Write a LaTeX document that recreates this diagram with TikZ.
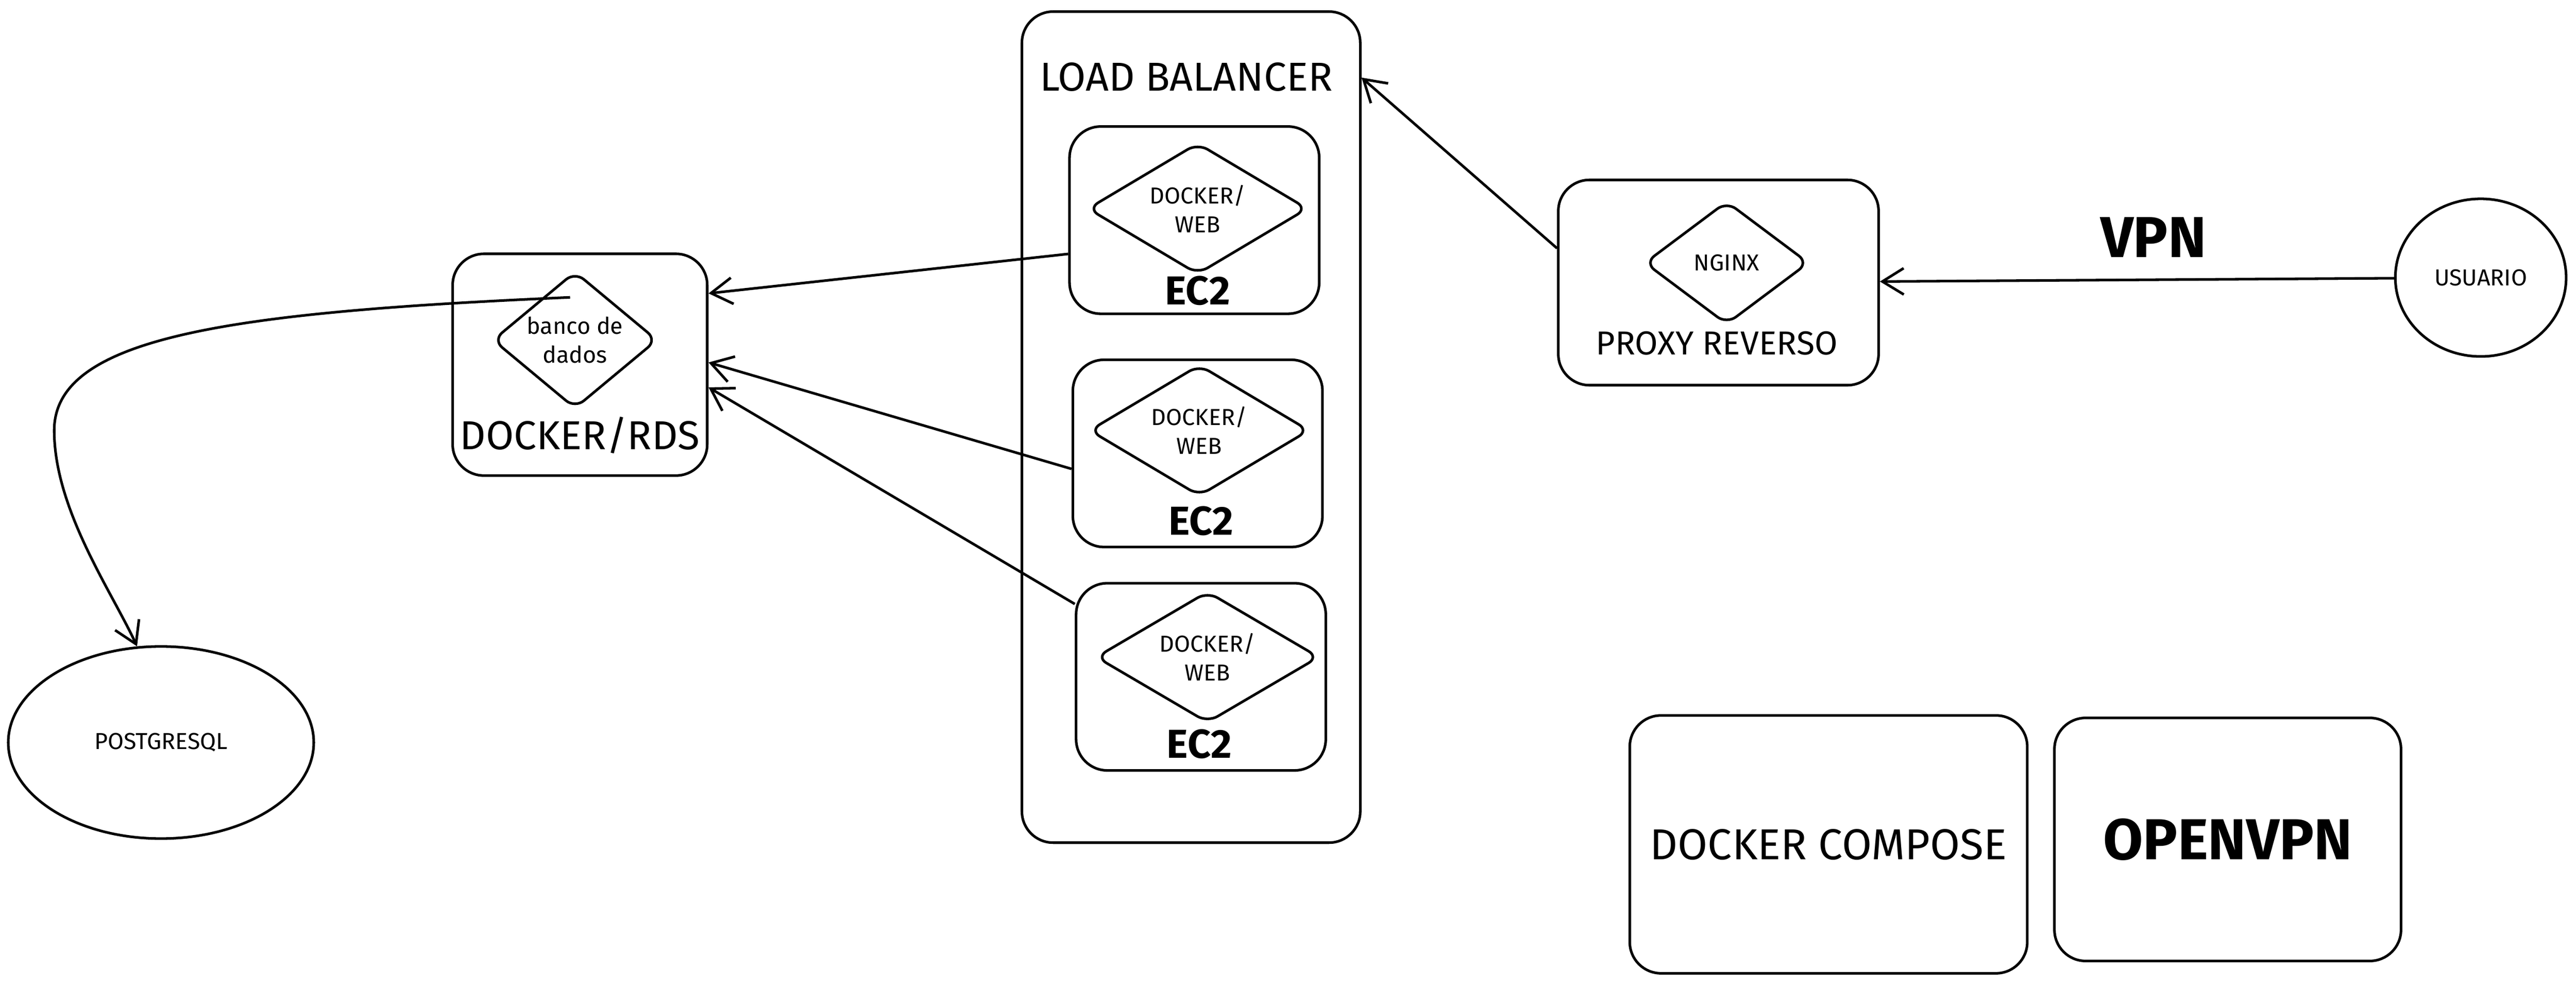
\documentclass[tikz,border=0pt]{standalone}
\usepackage{fontspec}
\setmainfont{Fira Sans}
\usepackage{tikz}
\usetikzlibrary{shapes.geometric,arrows.meta}

\begin{document}
\begin{tikzpicture}[x=0.02cm,y=-0.02cm,line width=0.9pt,
    >={Straight Barb[length=2.6mm,width=3.2mm]},
    box/.style={draw,rounded corners=0.38cm},
    dia/.style={draw,diamond,rounded corners=4pt,inner sep=1pt,align=center},
    smalltxt/.style={font=\fontsize{8}{10}\selectfont,align=center},
    boxtxt/.style={font=\fontsize{14}{15}\selectfont},
    ectxt/.style={font=\fontsize{14}{15}\selectfont\bfseries},
    bigtxt/.style={font=\fontsize{20}{22}\selectfont\bfseries}]
  \useasboundingbox (0,0) rectangle (1568,600);
  % load balancer with the three ec2
  \node[box,minimum width=4.12cm,minimum height=10.12cm] (lb) at (725,260) {};
  \node[boxtxt] (lbtxt) at (722,47) {LOAD BALANCER};
  \node[box,minimum width=3.04cm,minimum height=2.28cm] (ec2a) at (727,134) {};
  \node[dia,smalltxt,aspect=1.7,minimum width=2.68cm,minimum height=1.6cm] (weba) at (729,127) {DOCKER/\\WEB};
  \node[ectxt] (ec2atxt) at (729,177) {EC2};
  \node[box,minimum width=3.04cm,minimum height=2.28cm] (ec2b) at (729,276) {};
  \node[dia,smalltxt,aspect=1.7,minimum width=2.68cm,minimum height=1.6cm] (webb) at (730,262) {DOCKER/\\WEB};
  \node[ectxt] (ec2btxt) at (731,317) {EC2};
  \node[box,minimum width=3.04cm,minimum height=2.28cm] (ec2c) at (731,412) {};
  \node[dia,smalltxt,aspect=1.7,minimum width=2.72cm,minimum height=1.6cm] (webc) at (735,400) {DOCKER/\\WEB};
  \node[ectxt] (ec2ctxt) at (730,453) {EC2};
  % database
  \node[box,minimum width=3.1cm,minimum height=2.7cm] (rds) at (353,222) {};
  \node[dia,smalltxt,aspect=1.2,minimum width=1.94cm,minimum height=1.6cm] (db) at (350,207) {banco de\\dados};
  \node[boxtxt] (rdstxt) at (353,265) {DOCKER/RDS};
  \node[draw,ellipse,minimum width=3.72cm,minimum height=2.34cm,smalltxt] (pg) at (98,452) {POSTGRESQL};
  % proxy and user
  \node[box,minimum width=3.9cm,minimum height=2.5cm] (proxy) at (1046,172) {};
  \node[dia,smalltxt,aspect=1.3,minimum width=2cm,minimum height=1.5cm] (nginx) at (1051,160) {NGINX};
  \node[font=\fontsize{11.5}{13}\selectfont] (proxytxt) at (1045,209) {PROXY REVERSO};
  \node[draw,ellipse,minimum width=2.08cm,minimum height=1.92cm,smalltxt] (usr) at (1510,169) {USUARIO};
  % tools
  \node[box,minimum width=4.84cm,minimum height=3.14cm,font=\fontsize{15}{17}\selectfont] (compose) at (1113,514) {DOCKER COMPOSE};
  \node[box,minimum width=4.22cm,minimum height=2.96cm,bigtxt] (ovpn) at (1356,511) {OPENVPN};
  \coordinate (dbout) at (347,181);
  \coordinate (bend) at (33,262);
  \path[->]
    (usr) edge node[above=4pt,xshift=0.2cm,bigtxt] {VPN} (proxy)
    (proxy.168) edge (lb.64)
    (ec2a.195) edge (rds.29)
    (ec2b.187) edge (rds.1)
    (ec2c.150) edge (rds.-10);
  \draw[->] (dbout) .. controls (140,190) and (33,205) .. (bend)
    .. controls (33,310) and (68,360) .. (pg.104);
\end{tikzpicture}
\end{document}
